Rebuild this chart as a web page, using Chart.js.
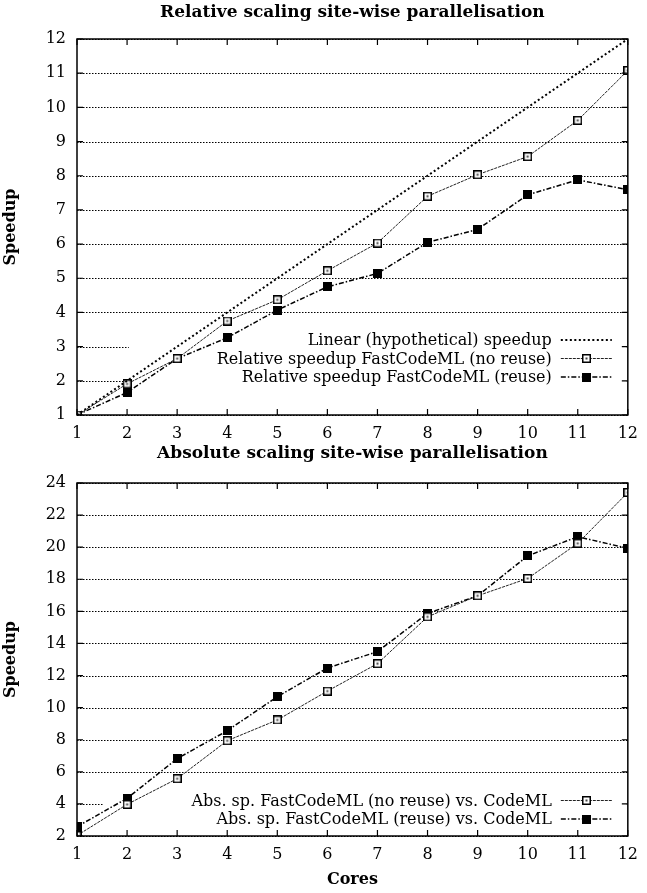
<!DOCTYPE html>
<html>
<head>
<meta charset="utf-8">
<script src="https://cdn.jsdelivr.net/npm/chart.js@4.4.0/dist/chart.umd.min.js"></script>
<style>
  body { margin: 0; background: #fff; }
  #top { width: 647px; height: 440px; position: relative; }
  #bottom { width: 647px; height: 453px; position: relative; }
</style>
</head>
<body>
<div id="top"><canvas id="relChart"></canvas></div>
<div id="bottom"><canvas id="absChart"></canvas></div>
<script>
// data
var cores = [1, 2, 3, 4, 5, 6, 7, 8, 9, 10, 11, 12];
var linearSpeedup = [1, 2, 3, 4, 5, 6, 7, 8, 9, 10, 11, 12];
var relNoReuse = [1.00, 1.91, 2.65, 3.75, 4.37, 5.22, 6.03, 7.40, 8.03, 8.56, 9.62, 11.08];
var relReuse = [1.00, 1.66, 2.65, 3.26, 4.07, 4.75, 5.14, 6.05, 6.43, 7.44, 7.88, 7.59];
var absNoReuse = [2.03, 3.97, 5.57, 7.94, 9.23, 11.03, 12.74, 15.66, 16.97, 18.05, 20.24, 23.41];
var absReuse = [2.58, 4.35, 6.82, 8.56, 10.68, 12.47, 13.49, 15.87, 16.97, 19.46, 20.65, 19.93];
var relTicks = [1, 2, 3, 4, 5, 6, 7, 8, 9, 10, 11, 12];
var absTicks = [2, 4, 6, 8, 10, 12, 14, 16, 18, 20, 22, 24];

var serif = "'DejaVu Serif', 'Liberation Serif', serif";
var keyFont = '16px ' + serif;

function pts(ys) {
  return cores.map(function (c, i) { return { x: c, y: ys[i] }; });
}

function makeBox(filled) {
  var c = document.createElement('canvas');
  c.width = 9; c.height = 9;
  var g = c.getContext('2d');
  g.fillStyle = '#000';
  g.fillRect(0, 0, 9, 9);
  if (!filled) {
    g.fillStyle = '#fff';
    g.fillRect(1.5, 1.5, 6, 6);
    g.fillStyle = '#444';
    g.fillRect(3.5, 3.5, 2, 2);
  }
  return c;
}
var openBox = makeBox(false);
var fullBox = makeBox(true);

function keyRows(chart, o) {
  var a = chart.chartArea;
  var n = chart.data.datasets.length;
  return { textRight: a.right - 76, firstRow: a.bottom - o.keyGap - 18.5 * (n - 1) };
}

var gnuplotLook = {
  id: 'gnuplotLook',
  beforeDatasetsDraw: function (chart, args, o) {
    var a = chart.chartArea, ctx = chart.ctx, y = chart.scales.y;
    ctx.save();
    // dotted grid
    ctx.strokeStyle = '#000';
    ctx.lineWidth = 1;
    ctx.setLineDash([1.5, 1.5]);
    y.ticks.forEach(function (t) {
      var py = Math.round(y.getPixelForValue(t.value)) + 0.5;
      ctx.beginPath();
      ctx.moveTo(a.left, py);
      ctx.lineTo(a.right, py);
      ctx.stroke();
    });
    ctx.setLineDash([]);
    // key box clears the grid behind it
    ctx.font = keyFont;
    var maxW = 0;
    chart.data.datasets.forEach(function (d) {
      maxW = Math.max(maxW, ctx.measureText(d.label).width);
    });
    var k = keyRows(chart, o);
    var boxLeft = k.textRight - maxW - 88;
    ctx.fillStyle = '#fff';
    ctx.fillRect(boxLeft, k.firstRow - 10, a.right - boxLeft - 1, a.bottom - k.firstRow + 9);
    ctx.restore();
  },
  afterDatasetsDraw: function (chart, args, o) {
    var a = chart.chartArea, ctx = chart.ctx, x = chart.scales.x, y = chart.scales.y;
    ctx.save();
    // frame
    ctx.strokeStyle = '#000';
    ctx.lineWidth = 1.5;
    ctx.strokeRect(a.left, a.top, a.right - a.left, a.bottom - a.top);
    // inward ticks on all four sides
    ctx.lineWidth = 1.2;
    ctx.beginPath();
    x.ticks.forEach(function (t) {
      var px = x.getPixelForValue(t.value);
      ctx.moveTo(px, a.bottom); ctx.lineTo(px, a.bottom - 6);
      ctx.moveTo(px, a.top); ctx.lineTo(px, a.top + 6);
    });
    y.ticks.forEach(function (t) {
      var py = y.getPixelForValue(t.value);
      ctx.moveTo(a.left, py); ctx.lineTo(a.left + 6, py);
      ctx.moveTo(a.right, py); ctx.lineTo(a.right - 6, py);
    });
    ctx.stroke();
    // key
    var k = keyRows(chart, o);
    ctx.font = keyFont;
    ctx.textAlign = 'right';
    ctx.textBaseline = 'middle';
    chart.data.datasets.forEach(function (d, i) {
      var ry = k.firstRow + 18.5 * i;
      ctx.fillStyle = '#000';
      ctx.fillText(d.label, k.textRight, ry + 1);
      ctx.strokeStyle = d.borderColor;
      ctx.lineWidth = d.borderWidth;
      ctx.setLineDash(d.borderDash || []);
      ctx.beginPath();
      ctx.moveTo(a.right - 67, ry);
      ctx.lineTo(a.right - 16, ry);
      ctx.stroke();
      ctx.setLineDash([]);
      if (d.pointStyle && typeof d.pointStyle === 'object') {
        var cx = (a.right - 67 + a.right - 16) / 2;
        ctx.drawImage(d.pointStyle, Math.round(cx - 4.5), Math.round(ry - 4.5));
      }
    });
    ctx.restore();
  },
  afterDraw: function (chart, args, o) {
    var a = chart.chartArea, ctx = chart.ctx;
    var cx = (a.left + a.right) / 2;
    ctx.save();
    ctx.fillStyle = '#000';
    ctx.textAlign = 'center';
    ctx.textBaseline = 'middle';
    ctx.font = 'bold 17px ' + serif;
    ctx.fillText(o.title, cx, o.titleY);
    ctx.font = 'bold 16px ' + serif;
    if (o.xTitle) ctx.fillText(o.xTitle, cx, a.bottom + 44);
    ctx.translate(11, (a.top + a.bottom) / 2);
    ctx.rotate(-Math.PI / 2);
    ctx.fillText('Speedup', 0, 0);
    ctx.restore();
  }
};

function makeOptions(yMin, yMax, tickList, pad, xHeight, look) {
  return {
    responsive: true,
    maintainAspectRatio: false,
    animation: false,
    devicePixelRatio: 1,
    layout: { padding: { top: pad, right: 13, left: 0, bottom: 0 } },
    plugins: {
      legend: { display: false },
      tooltip: { enabled: false },
      gnuplotLook: look
    },
    scales: {
      x: {
        type: 'linear', min: 1, max: 12,
        afterBuildTicks: function (s) { s.ticks = cores.map(function (v) { return { value: v }; }); },
        grid: { display: false, drawTicks: false },
        border: { display: false },
        ticks: { padding: 9, color: '#000', font: { family: serif, size: 16 }, maxRotation: 0 },
        afterFit: function (s) { s.height = xHeight; }
      },
      y: {
        min: yMin, max: yMax,
        afterBuildTicks: function (s) { s.ticks = tickList.map(function (v) { return { value: v }; }); },
        grid: { display: false, drawTicks: false },
        border: { display: false },
        ticks: { padding: 11, color: '#000', font: { family: serif, size: 16 } },
        afterFit: function (s) { s.width = 77; }
      }
    }
  };
}

new Chart(document.getElementById('relChart'), {
  type: 'line',
  data: {
    datasets: [{
      label: 'Linear (hypothetical) speedup',
      data: pts(linearSpeedup),
      borderColor: '#000', borderWidth: 2, borderDash: [2, 2.5],
      pointRadius: 0, pointStyle: false
    }, {
      label: 'Relative speedup FastCodeML (no reuse)',
      data: pts(relNoReuse),
      borderColor: '#222', borderWidth: 1, borderDash: [3, 1],
      pointStyle: openBox
    }, {
      label: 'Relative speedup FastCodeML (reuse)',
      data: pts(relReuse),
      borderColor: '#000', borderWidth: 1.5, borderDash: [5, 2, 1.5, 2],
      pointStyle: fullBox
    }]
  },
  options: makeOptions(1, 12, relTicks, 39, 25,
    { keyGap: 38, title: 'Relative scaling site-wise parallelisation', titleY: 13 }),
  plugins: [gnuplotLook]
});

new Chart(document.getElementById('absChart'), {
  type: 'line',
  data: {
    datasets: [{
      label: 'Abs. sp. FastCodeML (no reuse) vs. CodeML',
      data: pts(absNoReuse),
      borderColor: '#222', borderWidth: 1, borderDash: [3, 1],
      pointStyle: openBox
    }, {
      label: 'Abs. sp. FastCodeML (reuse) vs. CodeML',
      data: pts(absReuse),
      borderColor: '#000', borderWidth: 1.5, borderDash: [5, 2, 1.5, 2],
      pointStyle: fullBox
    }]
  },
  options: makeOptions(2, 24, absTicks, 43, 57,
    { keyGap: 17, title: 'Absolute scaling site-wise parallelisation', titleY: 14, xTitle: 'Cores' }),
  plugins: [gnuplotLook]
});
</script>
</body>
</html>
